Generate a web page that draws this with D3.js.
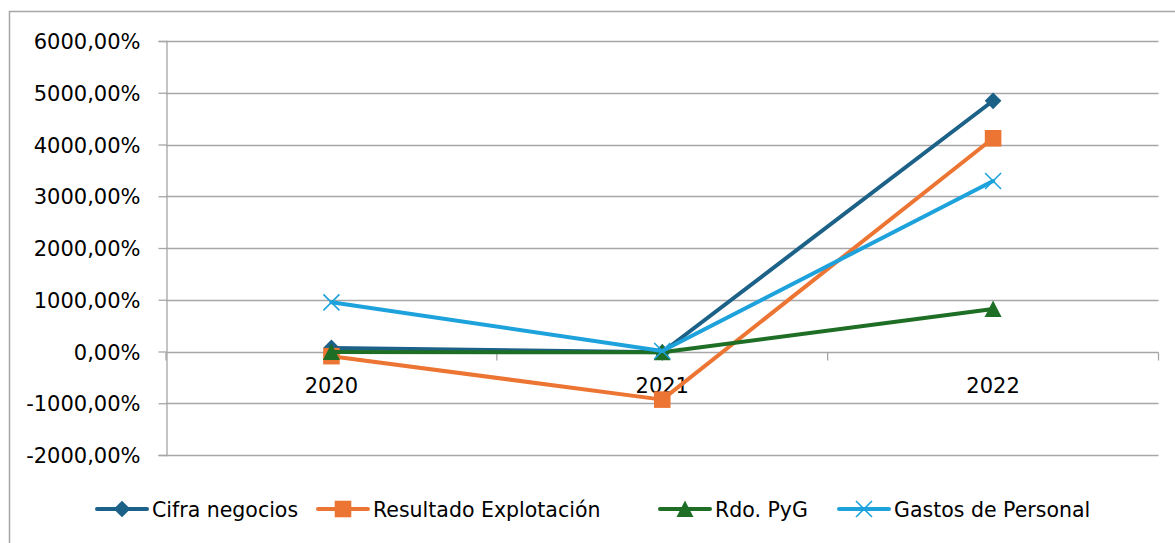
<!DOCTYPE html>
<html>
<head>
<meta charset="utf-8">
<script src="https://cdn.jsdelivr.net/npm/d3@7"></script>
<style>
  body { margin: 0; background: #fff; }
  text { font-family: "DejaVu Sans", sans-serif; fill: #000; }
</style>
</head>
<body>
<div id="chart"></div>
<script>
// data
const years      = ['2020', '2021', '2022'];
const cifra      = [70, -15, 4845];
const resultado  = [-90, -930, 4120];
const rdoPyg     = [-10, -15, 820];
const gastos     = [950, 10, 3295];
const yTicks     = [-2000, -1000, 0, 1000, 2000, 3000, 4000, 5000, 6000];

const series = [
    { name: 'Cifra negocios',        values: cifra,     color: '#1c6187', marker: 'diamond' },
    { name: 'Resultado Explotación', values: resultado, color: '#ed7533', marker: 'square' },
    { name: 'Rdo. PyG',              values: rdoPyg,    color: '#1e6e26', marker: 'triangle' },
    { name: 'Gastos de Personal',    values: gastos,    color: '#1da2dc', marker: 'cross' }
];

const width  = 1175,
      height = 543;

const svg = d3.select('#chart')
    .append('svg')
      .attr('width',  width)
      .attr('height', height);

// outer frame (only left and top edges fall inside the picture)
svg.append('path')
    .attr('d', `M9.5,${height}V11.5H${width}`)
    .attr('fill', 'none')
    .attr('stroke', '#a6a6a6')
    .attr('stroke-width', 1.5);

const x = d3.scaleBand()
    .domain(years)
    .range([166, 1158.5])
    .padding(0);

const y = d3.scaleLinear()
    .domain([-2000, 6000])
    .range([455, 41]);

const locale = d3.formatLocale({ decimal: ',', thousands: '', grouping: [3], currency: ['', ''], minus: '-' });
const fmt = locale.format('.2f');

// gridlines
svg.append('g')
    .selectAll('line')
    .data(yTicks)
    .enter()
    .append('line')
      .attr('x1', 166)
      .attr('x2', 1158.5)
      .attr('y1', d => Math.round(y(d)) + 0.5)
      .attr('y2', d => Math.round(y(d)) + 0.5)
      .attr('stroke', '#a6a6a6')
      .attr('stroke-width', 1.3);

// y axis
const yAxis = svg.append('g')
    .attr('transform', 'translate(166.5,0)')
    .call(d3.axisLeft(y)
        .tickValues(yTicks)
        .tickSize(8)
        .tickPadding(18)
        .tickFormat(d => fmt(d) + '%'));

yAxis.select('.domain').attr('stroke', '#a6a6a6').attr('stroke-width', 1.3);
yAxis.selectAll('.tick line').attr('stroke', '#a6a6a6').attr('stroke-width', 1.3);
yAxis.selectAll('.tick text')
    .style('font-size', '21px')
    .style('font-family', '"DejaVu Sans", sans-serif')
    .attr('fill', '#000')
    .attr('dy', '0.36em');

// category ticks on the zero line
svg.append('g')
    .selectAll('line')
    .data(years.concat(['end']))
    .enter()
    .append('line')
      .attr('x1', (d, i) => i < years.length ? x(d) : x(years[years.length - 1]) + x.bandwidth())
      .attr('x2', (d, i) => i < years.length ? x(d) : x(years[years.length - 1]) + x.bandwidth())
      .attr('y1', Math.round(y(0)) + 0.5)
      .attr('y2', Math.round(y(0)) + 8.5)
      .attr('stroke', '#a6a6a6')
      .attr('stroke-width', 1.3);

// category labels
svg.append('g')
    .selectAll('text')
    .data(years)
    .enter()
    .append('text')
      .attr('x', d => x(d) + x.bandwidth() / 2)
      .attr('y', 393)
      .attr('text-anchor', 'middle')
      .style('font-size', '21px')
      .text(d => d);

// marker shapes
const drawMarker = (g, type, color) => {
    if (type === 'diamond') {
        g.append('path')
            .attr('d', d3.symbol(d3.symbolSquare, 140)())
            .attr('transform', 'rotate(45)')
            .attr('fill', color);
    } else if (type === 'square') {
        g.append('path')
            .attr('d', d3.symbol(d3.symbolSquare, 275)())
            .attr('fill', color);
    } else if (type === 'triangle') {
        g.append('path')
            .attr('d', 'M0,-8.5L8.5,8L-8.5,8Z')
            .attr('fill', color);
    } else {
        g.append('path')
            .attr('d', 'M-8,-8L8,8M-8,8L8,-8')
            .attr('stroke', color)
            .attr('stroke-width', 1.6)
            .attr('fill', 'none');
    }
};

const line = d3.line()
    .x((d, i) => x(years[i]) + x.bandwidth() / 2)
    .y(d => y(d));

// series lines and markers
series.forEach(s => {
    const g = svg.append('g');
    g.append('path')
        .attr('d', line(s.values))
        .attr('fill', 'none')
        .attr('stroke', s.color)
        .attr('stroke-width', 4)
        .attr('stroke-linejoin', 'round')
        .attr('stroke-linecap', 'round');
    s.values.forEach((v, i) => {
        const m = g.append('g')
            .attr('transform', `translate(${x(years[i]) + x.bandwidth() / 2}, ${y(v)})`);
        drawMarker(m, s.marker, s.color);
    });
});

// legend
const legendX = [97, 318, 660, 839];
const legend = svg.selectAll('.legend')
    .data(series)
    .enter()
    .append('g')
    .attr('class', 'legend')
    .attr('transform', (d, i) => `translate(${legendX[i]}, 509)`);

legend.append('line')
    .attr('x1', 0)
    .attr('x2', 50)
    .attr('stroke', d => d.color)
    .attr('stroke-width', 4)
    .attr('stroke-linecap', 'round');

legend.each(function (d) {
    const m = d3.select(this).append('g').attr('transform', 'translate(25,0)');
    drawMarker(m, d.marker, d.color);
});

legend.append('text')
    .attr('x', 55)
    .attr('y', 7.5)
    .style('font-size', '20.5px')
    .text(d => d.name);
</script>
</body>
</html>
